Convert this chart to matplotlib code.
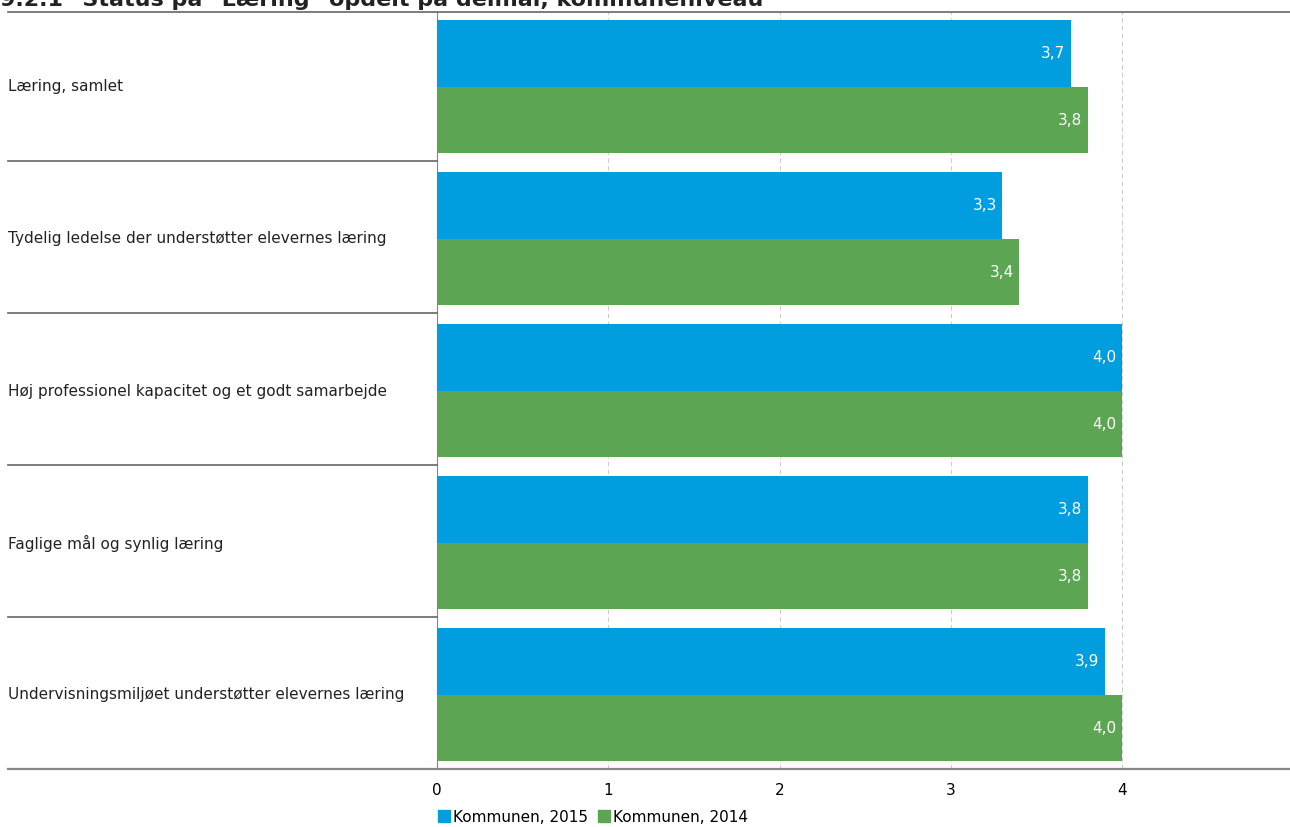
import matplotlib.pyplot as plt
from matplotlib.lines import Line2D
from matplotlib.patches import Patch

categories = [
    "Læring, samlet",
    "Tydelig ledelse der understøtter elevernes læring",
    "Høj professionel kapacitet og et godt samarbejde",
    "Faglige mål og synlig læring",
    "Undervisningsmiljøet understøtter elevernes læring",
]
values_2015 = [3.7, 3.3, 4.0, 3.8, 3.9]
values_2014 = [3.8, 3.4, 4.0, 3.8, 4.0]
series_names = ["Kommunen, 2015", "Kommunen, 2014"]
xticks = [0, 1, 2, 3, 4, 5]

blue = "#009ddf"
green = "#5ba553"

W, H = 1290, 827
fig = plt.figure(figsize=(W / 100, H / 100), dpi=100)

# axes: x=0 at px 437, x=5 at px ~1293; top at px 12, bottom at px 769
left, right, top, bottom = 437, 1293.5, 12, 769
ax = fig.add_axes([left / W, 1 - bottom / H, (right - left) / W, (bottom - top) / H])

n = len(categories)
pos = list(range(n))
bh = 0.4375
ax.barh([p - bh / 2 for p in pos], values_2015, height=bh, color=blue, zorder=3)
ax.barh([p + bh / 2 for p in pos], values_2014, height=bh, color=green, zorder=3)

for p, v in zip(pos, values_2015):
    ax.annotate(f"{v:.1f}".replace(".", ","), (v, p - bh / 2), xytext=(-4, 0),
                textcoords="offset points", ha="right", va="center",
                color="white", fontsize=11, zorder=4)
for p, v in zip(pos, values_2014):
    ax.annotate(f"{v:.1f}".replace(".", ","), (v, p + bh / 2), xytext=(-4, 0),
                textcoords="offset points", ha="right", va="center",
                color="white", fontsize=11, zorder=4)

ax.set_xlim(0, 5)
ax.set_ylim(4.487, -0.493)
ax.set_xticks(xticks)
ax.set_xticklabels([str(t) for t in xticks], fontsize=11)
ax.tick_params(axis="x", length=0, pad=10)
ax.set_yticks([])
ax.grid(axis="x", color="#cccccc", linestyle=(0, (4, 3)), linewidth=0.8, zorder=0)
for s in ["top", "right", "bottom"]:
    ax.spines[s].set_visible(False)
ax.spines["left"].set_color("#888888")

# category labels and separators in the left area
for i, c in enumerate(categories):
    y = 1 - (87 + 152 * i) / H
    fig.text(8 / W, y, c, ha="left", va="center", fontsize=11, color="#222222")
for i in range(1, n):
    y = 1 - (161 + 152 * (i - 1)) / H
    fig.add_artist(Line2D([8 / W, left / W], [y, y], color="#666666", linewidth=1.2))

# top and bottom lines
fig.add_artist(Line2D([8 / W, 1], [1 - top / H, 1 - top / H], color="#666666", linewidth=1.2))
fig.add_artist(Line2D([8 / W, 1], [1 - bottom / H, 1 - bottom / H], color="#888888", linewidth=1.6))

# title (clipped at top as in the original)
fig.text(0, 1 - 6 / H, '9.2.1 "Status på "Læring" opdelt på delmål, kommuneniveau',
         ha="left", va="baseline", fontsize=16, fontweight="bold", color="#222222")

handles = [Patch(color=blue), Patch(color=green)]
fig.legend(handles, series_names, loc="center left",
           bbox_to_anchor=(432 / W, 1 - 817 / H), ncol=2, frameon=False,
           fontsize=11, handlelength=0.8, handleheight=0.8, handletextpad=0.2,
           columnspacing=0.6, borderaxespad=0)

fig.savefig("out.png", dpi=100)
